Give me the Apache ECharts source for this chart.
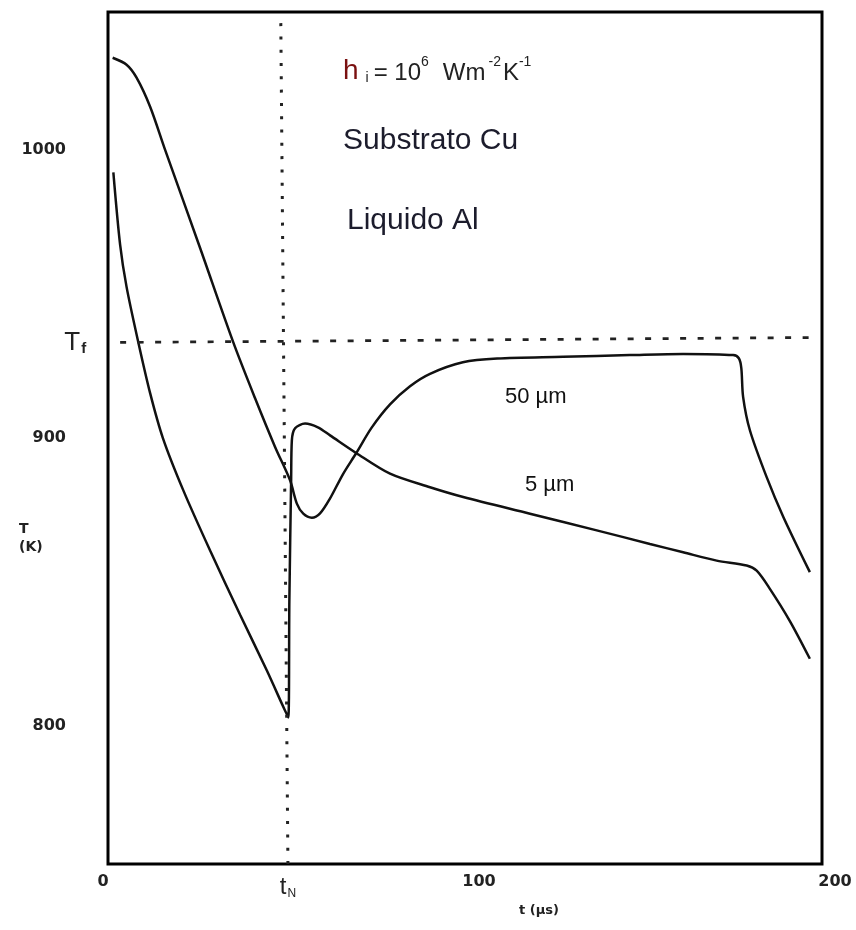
<!DOCTYPE html>
<html>
<head>
<meta charset="utf-8">
<script src="https://cdn.jsdelivr.net/npm/echarts@6/dist/echarts.min.js"></script>
<style>
html,body{margin:0;padding:0;background:#fff;}
#chart{width:856px;height:930px;}
</style>
</head>
<body>
<div id="chart"></div>
<script>
// time (µs) and temperature (K)
const t50 = [1.3, 5.2, 8.0, 11.8, 16.0, 25.8, 35.1, 41.2, 46.8, 51.0, 52.9, 54.7, 57.1, 59.4, 62.2, 65.8, 69.5, 73.9, 79.0, 84.6, 90.2, 99.4, 109.0, 127.5, 146.2, 161.1, 175.1, 176.7, 177.4, 177.9, 179.8, 184.5, 189.2, 196.6];
const T50 = [1032.1, 1029.7, 1025.2, 1015.1, 1000.1, 966.0, 933.2, 913.8, 896.9, 885.3, 877.2, 873.7, 872.3, 873.8, 879.0, 887.4, 894.7, 903.7, 911.7, 918.0, 922.3, 926.3, 927.6, 928.2, 928.8, 929.2, 928.8, 927.7, 924.3, 914.3, 902.7, 886.4, 872.5, 853.4];
const t5 = [1.5, 3.4, 5.2, 8.5, 11.8, 15.4, 21.1, 28.6, 37.0, 44.5, 50.5, 50.8, 51.3, 51.5, 52.4, 55.2, 58.8, 62.2, 69.5, 79.0, 90.2, 99.5, 118.2, 136.9, 151.8, 161.1, 170.5, 178.9, 181.7, 185.4, 191.0, 196.6];
const T5 = [992.3, 967.1, 952.5, 933.2, 915.6, 899.9, 881.8, 860.9, 838.6, 819.2, 802.9, 843.5, 885.3, 899.2, 903.4, 905.0, 903.7, 900.9, 894.8, 887.6, 882.9, 879.5, 873.7, 867.9, 863.2, 860.3, 857.4, 855.7, 853.9, 847.6, 836.4, 823.3];
const xTicks = [0, 100, 200];
const yTicks = [800, 900, 1000];
const Tf = [933.2, 934.9];      // melting temperature line (left, right ends)
const TfSpan = [3.4, 196.6];
const tN = [50.4, 48.4];        // nucleation time line (bottom, top ends)
const tNSpan = [752, 1045];
const seriesNames = ['50 µm', '5 µm'];

const chart = echarts.init(document.getElementById('chart'), null, {renderer: 'canvas'});
const pair = (xs, ys) => xs.map((x, i) => [x, ys[i]]);
const lineStyle = {color: '#111', width: 2.5};
const xPad = {0: [0, 10, 0, 0], 100: [0, 0, 0, 28], 200: [0, 0, 0, 26]};
const num = {fontFamily: 'DejaVu Sans', fontWeight: 'bold', fontSize: 16, color: '#222'};

chart.setOption({
  animation: false,
  backgroundColor: '#fff',
  grid: {left: 108, right: 34, top: 12, bottom: 66, show: true, borderColor: '#000', borderWidth: 3, backgroundColor: 'transparent'},
  xAxis: {
    type: 'value', min: 0, max: 200,
    axisLine: {show: false}, axisTick: {show: false}, splitLine: {show: false},
    axisLabel: {
      customValues: xTicks, margin: 10,
      formatter: v => '{v' + v + '|' + v + '}',
      rich: {
        v0: Object.assign({padding: xPad[0]}, num),
        v100: Object.assign({padding: xPad[100]}, num),
        v200: Object.assign({padding: xPad[200]}, num)
      }
    }
  },
  yAxis: {
    type: 'value', min: 752, max: 1048,
    axisLine: {show: false}, axisTick: {show: false}, splitLine: {show: false},
    axisLabel: Object.assign({customValues: yTicks, margin: 42, formatter: v => String(v)}, num)
  },
  series: [
    {
      name: seriesNames[0], type: 'line', data: pair(t50, T50), symbol: 'none', smooth: 0.3, lineStyle: lineStyle,
      markLine: {
        silent: true, symbol: 'none',
        data: [
          [{coord: [TfSpan[0], Tf[0]], lineStyle: {type: [6, 11.5], width: 2.7, color: '#222'},
            label: {show: true, position: 'start', distance: 34, formatter: '{a|T}{b|f}',
              rich: {a: {fontFamily: 'Liberation Sans', fontSize: 26, color: '#222'}, b: {fontFamily: 'Liberation Sans', fontWeight: 'bold', fontSize: 15, color: '#222', padding: [12, 0, 0, 1]}}}},
           {coord: [TfSpan[1], Tf[1]]}],
          [{coord: [tN[0], tNSpan[0]], lineStyle: {type: [3, 10.3], width: 3, color: '#222'},
            label: {show: true, position: 'start', distance: 10, formatter: '{a|t}{b|N}',
              rich: {a: {fontFamily: 'Liberation Sans', fontSize: 24, color: '#222'}, b: {fontFamily: 'Liberation Sans', fontSize: 12, color: '#222', padding: [14, 0, 0, 1]}}}},
           {coord: [tN[1], tNSpan[1]]}]
        ]
      }
    },
    {name: seriesNames[1], type: 'line', data: pair(t5, T5), symbol: 'none', smooth: 0.3, lineStyle: lineStyle}
  ],
  graphic: [
    {type: 'text', left: 343, top: 55, style: {
      text: '{h|h}{i|i}{n|= 10}{s|6}{w|Wm}{s2|-2}{k|K}{s|-1}',
      rich: {
        h: {fontFamily: 'Liberation Sans', fontSize: 28, fill: '#7a1010', verticalAlign: 'bottom', lineHeight: 30},
        i: {fontFamily: 'Liberation Sans', fontSize: 14, fill: '#222', verticalAlign: 'bottom', lineHeight: 22, padding: [0, 5, 0, 7]},
        n: {fontFamily: 'Liberation Sans', fontSize: 24, fill: '#222', verticalAlign: 'bottom', lineHeight: 28},
        w: {fontFamily: 'Liberation Sans', fontSize: 24, fill: '#222', verticalAlign: 'bottom', lineHeight: 28, padding: [0, 0, 0, 14]},
        k: {fontFamily: 'Liberation Sans', fontSize: 24, fill: '#222', verticalAlign: 'bottom', lineHeight: 28, padding: [0, 0, 0, 2]},
        s: {fontFamily: 'Liberation Sans', fontSize: 14, fill: '#222', verticalAlign: 'top', lineHeight: 16},
        s2: {fontFamily: 'Liberation Sans', fontSize: 14, fill: '#222', verticalAlign: 'top', lineHeight: 16, padding: [0, 0, 0, 3]}
      }}},
    {type: 'text', left: 343, top: 126, style: {text: 'Substrato Cu', fontFamily: 'Liberation Sans', fontSize: 30, fill: '#1c1c2c'}},
    {type: 'text', left: 347, top: 206, style: {text: 'Liquido Al', fontFamily: 'Liberation Sans', fontSize: 30, fill: '#1c1c2c'}},
    {type: 'text', left: 505, top: 386, style: {text: seriesNames[0], fontFamily: 'Liberation Sans', fontSize: 22, fill: '#111'}},
    {type: 'text', left: 525, top: 474, style: {text: seriesNames[1], fontFamily: 'Liberation Sans', fontSize: 22, fill: '#111'}},
    {type: 'text', left: 19, top: 520, style: {text: 'T\n(K)', fontFamily: 'DejaVu Sans', fontWeight: 'bold', fontSize: 14, fill: '#222', align: 'center', lineHeight: 18}},
    {type: 'text', left: 519, top: 904, style: {text: 't (µs)', fontFamily: 'DejaVu Sans', fontWeight: 'bold', fontSize: 13, fill: '#222'}}
  ]
});
</script>
</body>
</html>
